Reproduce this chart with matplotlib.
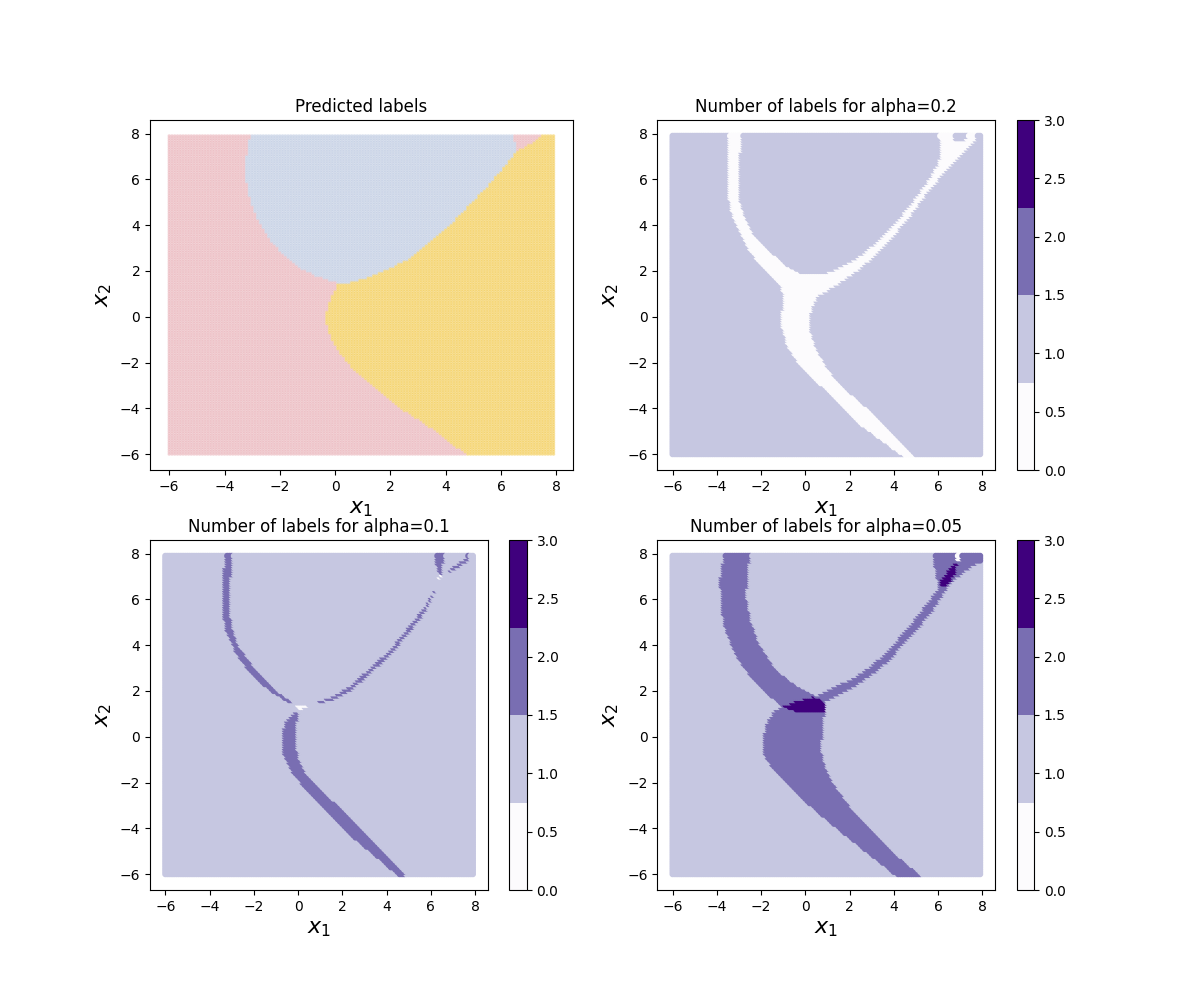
import matplotlib
matplotlib.use('Agg')
import matplotlib.pyplot as plt
import numpy as np
from matplotlib.path import Path

# regions, (x1, x2) outlines
blue_region = [(-3.06, 8.1), (-3.18, 7.17), (-3.25, 6.59), (-3.22, 6.0), (-3.08, 5.13), (-2.84, 4.33),
               (-2.42, 3.45), (-2.0, 2.87), (-1.27, 2.14), (-0.67, 1.77), (0.06, 1.48), (0.54, 1.48),
               (1.14, 1.7), (1.87, 2.06), (2.59, 2.47), (3.32, 3.16), (4.16, 4.03), (4.83, 4.84),
               (5.49, 5.68), (6.09, 6.51), (6.58, 7.24), (6.39, 8.1)]
yellow_region = [(7.57, 8.1), (8.1, 8.1), (8.1, -6.1), (4.83, -6.1), (3.56, -4.94), (2.53, -4.13), (1.39, -3.04),
                 (0.54, -2.16), (0.06, -1.44), (-0.24, -0.7), (-0.35, -0.05), (-0.24, 0.6), (0.06, 1.33),
                 (0.18, 1.6), (2.59, 3.0), (6.0, 7.0), (6.58, 7.24), (6.82, 7.39), (7.24, 7.68)]

white_a02 = [(-3.40, 8.1), (-3.48, 5.71), (-3.33, 4.69), (-2.95, 3.81), (-2.49, 2.94), (-1.74, 2.06),
             (-1.05, 1.41), (-0.95, 0.90), (-1.05, -0.27), (-0.75, -1.29), (-0.22, -2.02), (1.0, -3.19),
             (2.51, -4.64), (4.56, -6.1), (5.09, -6.1), (4.03, -5.08), (2.82, -3.91), (1.45, -2.75),
             (0.84, -1.87), (0.46, -1.14), (0.24, -0.41), (0.31, 0.31), (0.54, 0.9), (1.0, 1.19), (1.6, 1.55),
             (2.36, 2.06), (3.12, 2.65), (4.03, 3.6), (4.79, 4.47), (5.55, 5.49), (6.46, 6.51), (7.22, 7.31),
             (7.75, 7.82), (7.75, 8.1), (7.34, 8.1), (7.34, 7.82), (7.14, 7.72), (6.84, 7.72), (6.76, 7.82),
             (6.76, 8.1), (6.08, 8.1), (6.15, 7.17), (6.03, 6.73), (5.55, 5.93), (4.94, 5.13), (4.26, 4.32),
             (3.42, 3.45), (2.51, 2.72), (1.91, 2.36), (1.0, 1.96), (-0.14, 1.92), (-0.83, 2.28), (-1.89, 3.23),
             (-2.34, 3.74), (-2.72, 4.47), (-2.95, 5.27), (-3.0, 6.44), (-2.8, 8.1)]

two_a01_left = [(-3.18, 8.1), (-3.36, 7.17), (-3.39, 5.56), (-3.21, 4.69), (-2.75, 3.67), (-2.15, 2.87),
                (-1.24, 2.06), (-0.40, 1.57), (-0.14, 1.51), (-0.40, 1.7), (-0.93, 2.06), (-1.54, 2.65),
                (-2.22, 3.45), (-2.68, 4.11), (-2.98, 4.98), (-3.06, 6.0), (-2.98, 7.46), (-2.9, 8.1)]
two_a01_low = [(-0.10, 1.12), (-0.48, 0.82), (-0.67, 0.17), (-0.63, -0.71), (-0.17, -1.58), (0.59, -2.46),
               (2.25, -4.13), (3.62, -5.23), (4.68, -6.1), (4.99, -6.1), (3.92, -4.94), (2.71, -3.77),
               (1.19, -2.31), (0.43, -1.58), (0.05, -0.85), (-0.10, 0.02), (-0.02, 0.75), (0.13, 1.09)]
two_a01_right = [(0.81, 1.55), (1.5, 1.77), (2.41, 2.28), (3.32, 3.09), (4.23, 3.89), (5.14, 4.98), (5.75, 5.71),
                 (6.28, 6.59), (6.28, 6.47), (5.82, 5.56), (5.21, 4.81), (4.30, 3.74), (3.39, 2.91),
                 (2.48, 2.14), (1.57, 1.66), (0.84, 1.51)]
two_a01_wedge = [(6.28, 8.1), (6.28, 7.6), (6.45, 7.13), (6.55, 7.2), (6.62, 7.8), (6.66, 8.1)]
two_a01_arm = [(6.81, 7.31), (7.64, 7.87), (7.49, 8.1), (7.72, 8.1), (7.72, 7.75), (6.85, 7.21)]
white_a01_mid = [(-0.10, 1.48), (0.56, 1.48), (0.13, 1.26), (-0.02, 1.33)]
white_a01_top = [(6.38, 6.98), (6.62, 7.12), (6.55, 7.18), (6.40, 7.10)]

two_a005 = [(-2.42, 8.1), (-2.57, 7.17), (-2.62, 6.15), (-2.42, 5.13), (-2.04, 4.11), (-1.28, 3.01), (-0.22, 2.21),
            (0.54, 1.85), (1.45, 2.28), (2.36, 2.72), (3.12, 3.23), (3.88, 3.96), (4.64, 4.76), (5.40, 5.71),
            (6.08, 6.59), (5.93, 7.31), (5.78, 8.1), (8.1, 8.1), (8.1, 7.82), (7.52, 7.46), (6.91, 7.02),
            (6.46, 6.59), (5.85, 5.64), (5.24, 4.91), (4.49, 4.11), (3.73, 3.3), (2.97, 2.72), (2.06, 2.14),
            (0.95, 1.63), (0.92, 1.19), (0.84, 0.31), (0.75, -0.4), (0.84, -0.85), (1.15, -1.73), (2.06, -2.97),
            (3.88, -4.86), (5.40, -6.1), (4.26, -6.1), (3.12, -5.23), (1.60, -4.06), (0.08, -2.82), (-1.36, -1.44),
            (-1.77, -0.85), (-1.89, -0.27), (-1.74, 0.6), (-1.36, 1.19), (-0.98, 1.38), (-1.58, 1.85), (-2.42, 2.65),
            (-3.10, 3.6), (-3.56, 4.69), (-3.78, 5.71), (-3.81, 7.02), (-3.63, 8.1)]
white_a005_gap = [(6.9, 8.1), (7.12, 8.1), (6.98, 7.7), (6.88, 7.75)]
three_a005_mid = [(-0.98, 1.38), (-0.37, 1.63), (0.39, 1.82), (0.77, 1.7), (0.95, 1.48), (0.92, 1.12), (-0.29, 1.12),
                  (-0.6, 1.26)]
three_a005_top = [(6.08, 6.73), (6.38, 7.17), (6.76, 7.68), (6.94, 7.68), (6.84, 7.24), (6.46, 6.66), (6.23, 6.61)]

titles = ['Number of labels for alpha=0.2', 'Number of labels for alpha=0.1', 'Number of labels for alpha=0.05']
label_colors = ['#e6a4ac', '#b1c0dc', '#f2c230']


def inside(region):
    return Path(region).contains_points(X_test)


xx, yy = np.meshgrid(np.arange(-6, 8, 0.1), np.arange(-6, 8, 0.1))
X_test = np.c_[xx.ravel(), yy.ravel()]

y_pred = np.zeros(len(X_test), dtype=int)
y_pred[inside(yellow_region)] = 2
y_pred[inside(blue_region)] = 1

n_a02 = np.ones(len(X_test))
n_a02[inside(white_a02)] = 0

n_a01 = np.ones(len(X_test))
for region in [two_a01_left, two_a01_low, two_a01_right, two_a01_wedge, two_a01_arm]:
    n_a01[inside(region)] = 2
for region in [white_a01_mid, white_a01_top]:
    n_a01[inside(region)] = 0

n_a005 = np.ones(len(X_test))
n_a005[inside(two_a005)] = 2
n_a005[inside(white_a005_gap)] = 0
for region in [three_a005_mid, three_a005_top]:
    n_a005[inside(region)] = 3

fig, axs = plt.subplots(2, 2, figsize=(12, 10))
axs = axs.ravel()
cmap = matplotlib.colormaps['Purples'].resampled(4)

axs[0].scatter(X_test[:, 0], X_test[:, 1], color=[label_colors[i] for i in y_pred], marker='.', s=10, alpha=0.35)
axs[0].set_title('Predicted labels')

for ax, title, n_labels in zip(axs[1:], titles, [n_a02, n_a01, n_a005]):
    sc = ax.scatter(X_test[:, 0], X_test[:, 1], c=n_labels, cmap=cmap, vmin=0, vmax=3, marker='.', s=50)
    ax.set_title(title)
    plt.colorbar(sc, ax=ax)

for ax in axs:
    ax.set_xlabel('$x_1$', fontsize=16)
    ax.set_ylabel('$x_2$', fontsize=16)

plt.savefig('out.png', dpi=100)
